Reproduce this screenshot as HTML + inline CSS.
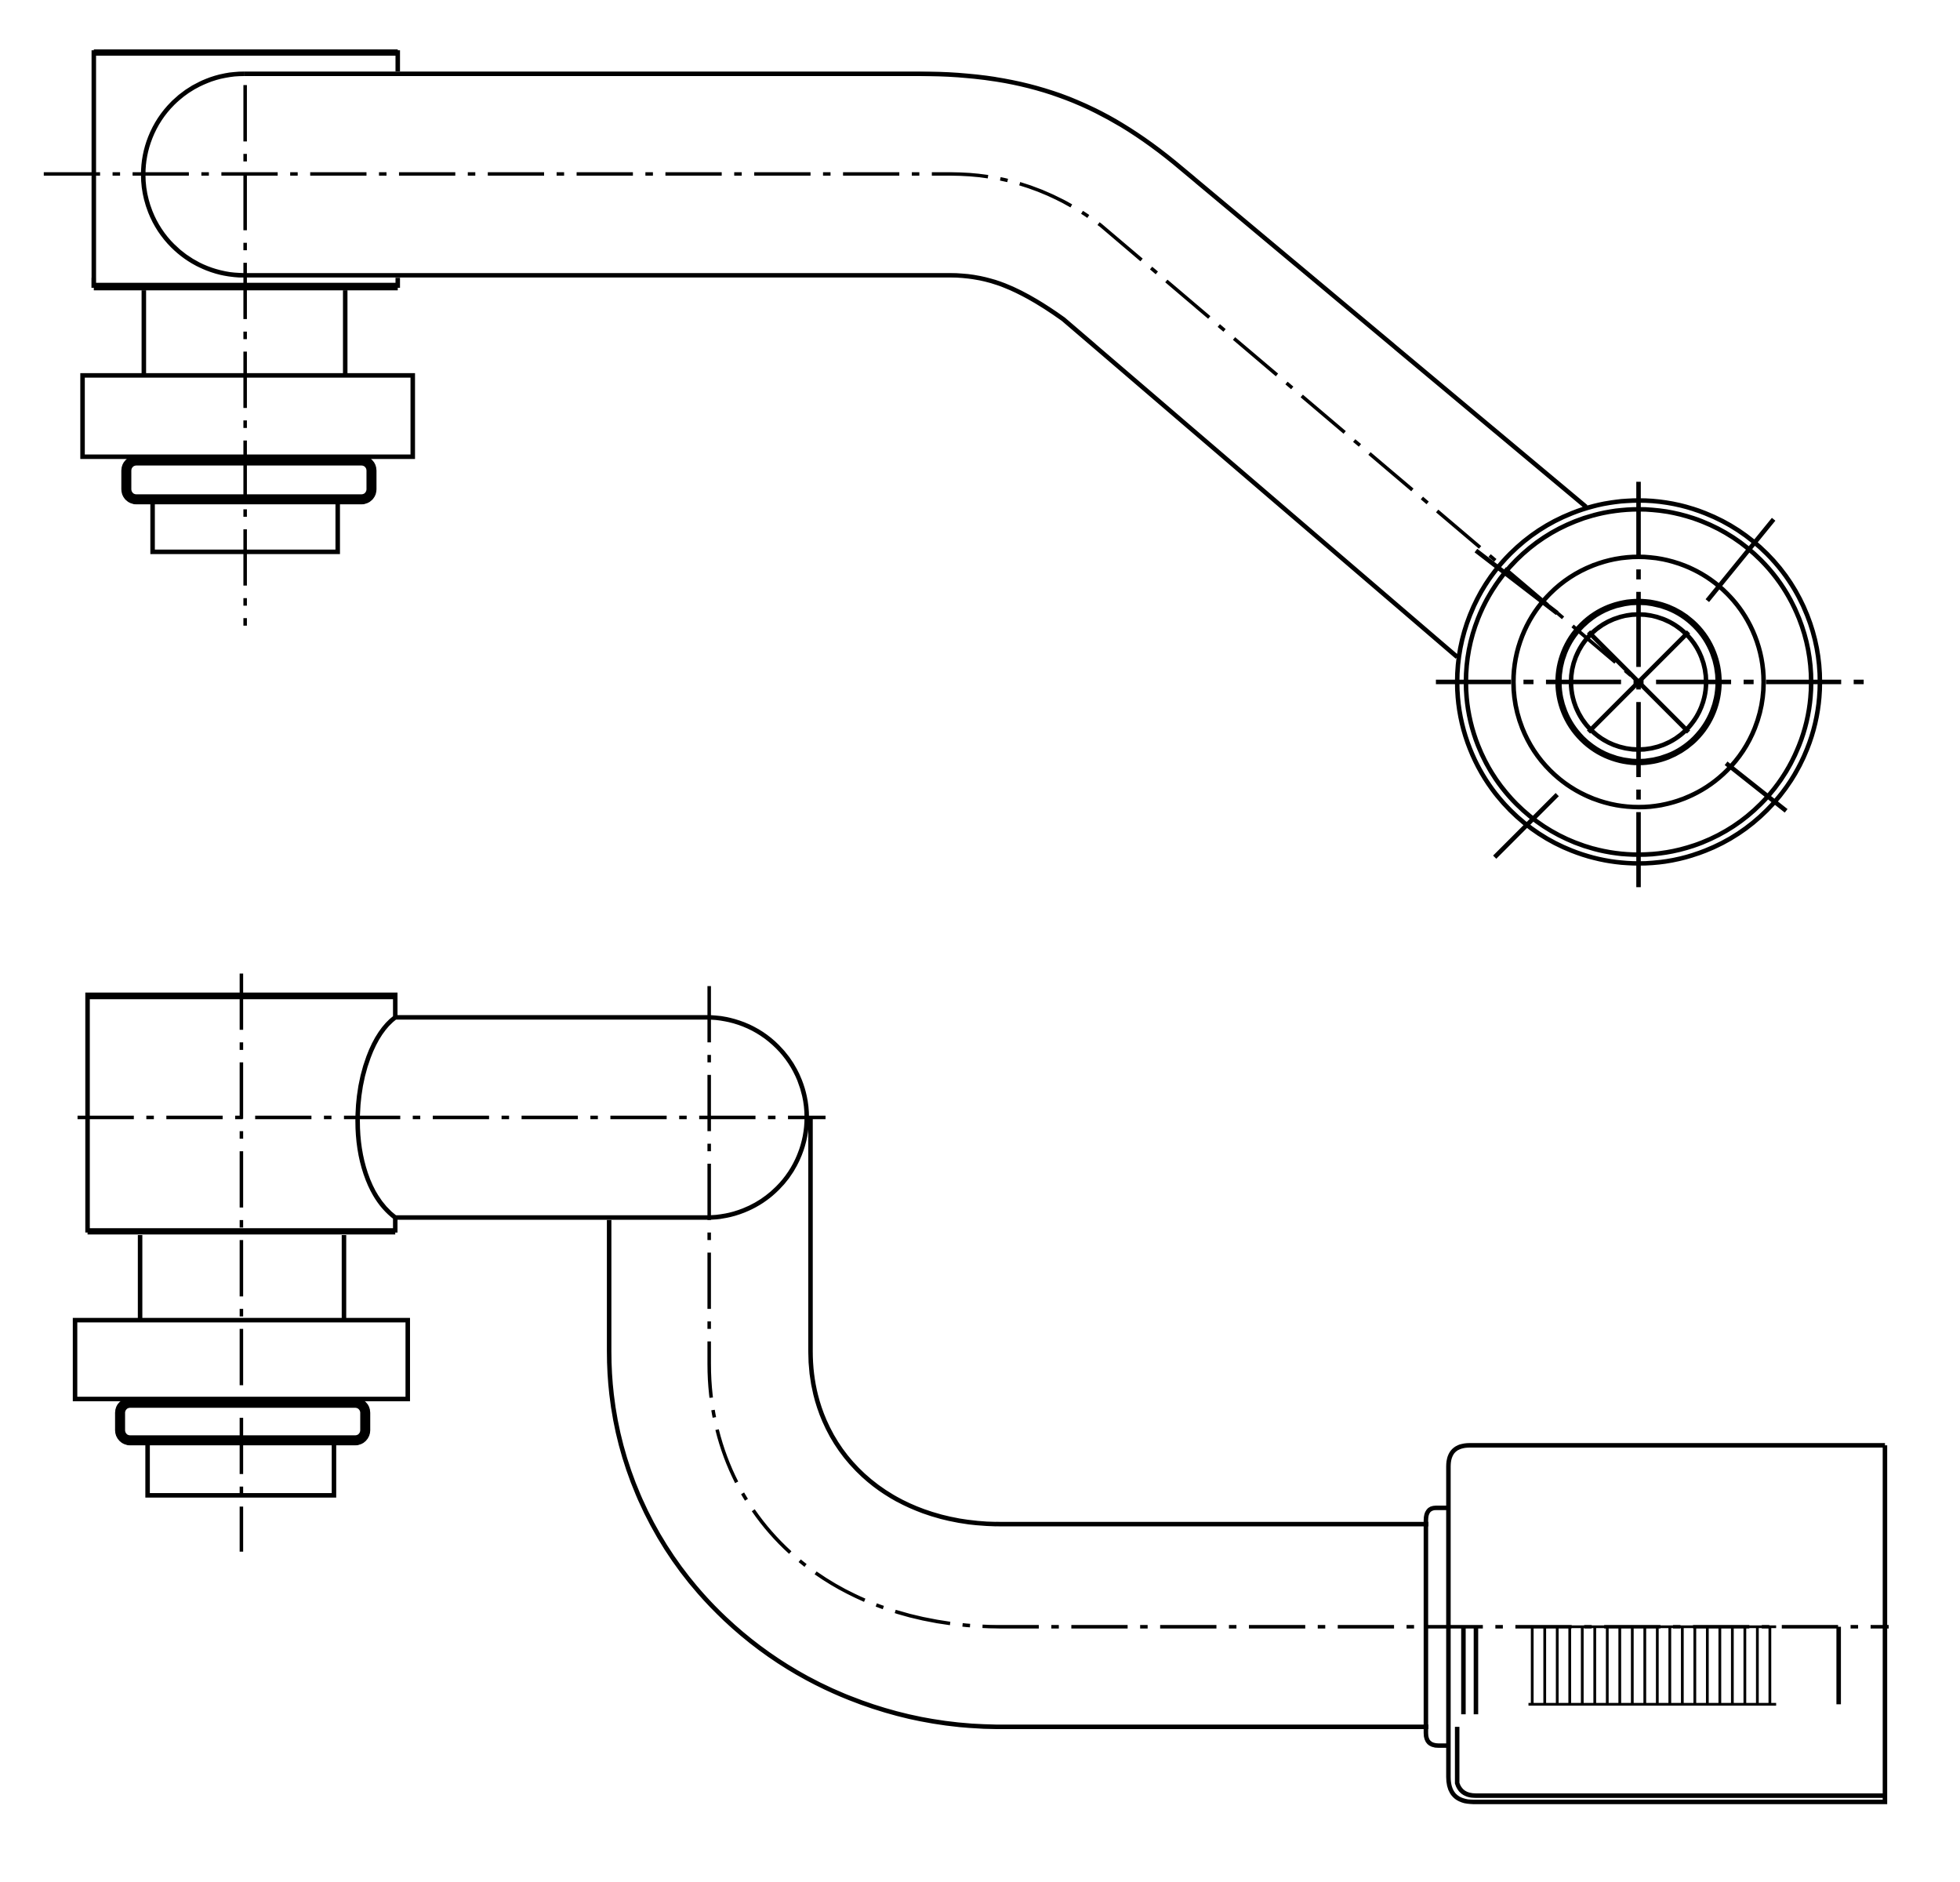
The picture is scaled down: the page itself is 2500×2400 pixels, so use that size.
<!DOCTYPE html>
<html><head><meta charset="utf-8"><style>
html,body{margin:0;padding:0;background:#fff;}
svg{display:block;}
</style></head><body>
<svg width="2500" height="2400" viewBox="0 0 1567 1504" preserveAspectRatio="none" xmlns="http://www.w3.org/2000/svg" fill="none" stroke="#000" stroke-width="3.6">
<rect width="1567" height="1504" fill="#fff" stroke="none"/>
<g stroke-linecap="butt">
<!-- TOP VIEW -->
<path d="M75 230 V42 H318 V57" />
<path d="M75 42 H318" stroke-width="5"/>
<path d="M75 229 H318" stroke-width="6"/>
<path d="M75 230 V222"/>
<path d="M318 222 V230"/>
<path d="M195 59 H735 C820 59 880 80 945 135 L1268 405"/>
<path d="M195 220 H760 C790 220 815 230 850 255 L1165 525"/>
<path d="M195 59 A80 80 0 0 0 195 220"/>
<path d="M35 139 H760 C800 139 840 150 880 180 L1310 545" stroke-dasharray="45 10 6 10" stroke-width="2.8"/>
<path d="M196 68 V500" stroke-dasharray="45 10 6 10" stroke-width="2.8"/>
<path d="M115 232 V300 M276 232 V300"/>
<rect x="66" y="300" width="264" height="65"/>
<rect x="101" y="368" width="196" height="31" rx="8" stroke-width="8"/>
<rect x="122" y="400" width="148" height="41"/>
<circle cx="1310" cy="545" r="145"/>
<circle cx="1310" cy="545" r="138"/>
<circle cx="1310" cy="545" r="100"/>
<circle cx="1310" cy="545" r="64" stroke-width="5"/>
<circle cx="1310" cy="545" r="54"/>
<path d="M1148 545 H1495 M1310 385 V712" stroke-dasharray="60 10 8 10"/>
<path d="M1195 685 L1245 635 M1270 585 L1350 505 M1365 480 L1418 415"/>
<path d="M1180 440 L1245 490 M1270 505 L1350 585 M1380 610 L1428 648"/>
<!-- BOTTOM VIEW -->
<path d="M70 985 V795 H316 V813"/>
<path d="M70 796 H316" stroke-width="5"/>
<path d="M70 984 H316" stroke-width="5"/>
<path d="M316 973 V985"/>
<path d="M316 813 H565 A80 80 0 0 1 565 973 H316"/>
<path d="M316 813 C280 840 272 940 316 973"/>
<path d="M487 975 V1080 C487 1250 630 1380 800 1380 H1142"/>
<path d="M648 893 V1080 C648 1160 710 1218 800 1218 H1142"/>
<path d="M62 893 H660" stroke-dasharray="45 10 6 10" stroke-width="2.8"/>
<path d="M193 778 V1240" stroke-dasharray="45 10 6 10" stroke-width="2.8"/>
<path d="M567 788 V1090 C567 1210 660 1300 800 1300 H1510" stroke-dasharray="45 10 6 10" stroke-width="2.8"/>
<path d="M112 987 V1055 M275 987 V1055"/>
<rect x="60" y="1055" width="266" height="63"/>
<rect x="96" y="1121" width="196" height="30" rx="8" stroke-width="8"/>
<rect x="118" y="1152" width="149" height="43"/>
<path d="M1158 1205 H1148 Q1140 1205 1140 1215 V1385 Q1140 1395 1150 1395 H1158"/>
<path d="M1507 1155 H1175 Q1158 1155 1158 1172 V1420 Q1158 1440 1178 1440 H1507 V1155"/>
<path d="M1165 1380 V1425 Q1168 1435 1180 1435 H1507"/>
<path d="M1170 1300 V1370 M1180 1300 V1370"/>
<g stroke-width="2.2">
<path d="M1222 1300 H1420 M1222 1362 H1420"/>
<path d="M1225 1300V1362M1235 1300V1362M1245 1300V1362M1255 1300V1362M1265 1300V1362M1275 1300V1362M1285 1300V1362M1295 1300V1362M1305 1300V1362M1315 1300V1362M1325 1300V1362M1335 1300V1362M1345 1300V1362M1355 1300V1362M1365 1300V1362M1375 1300V1362M1385 1300V1362M1395 1300V1362M1405 1300V1362M1415 1300V1362"/>
</g>
<path d="M1470 1300 V1362"/>
</g>
</svg>
</body></html>
